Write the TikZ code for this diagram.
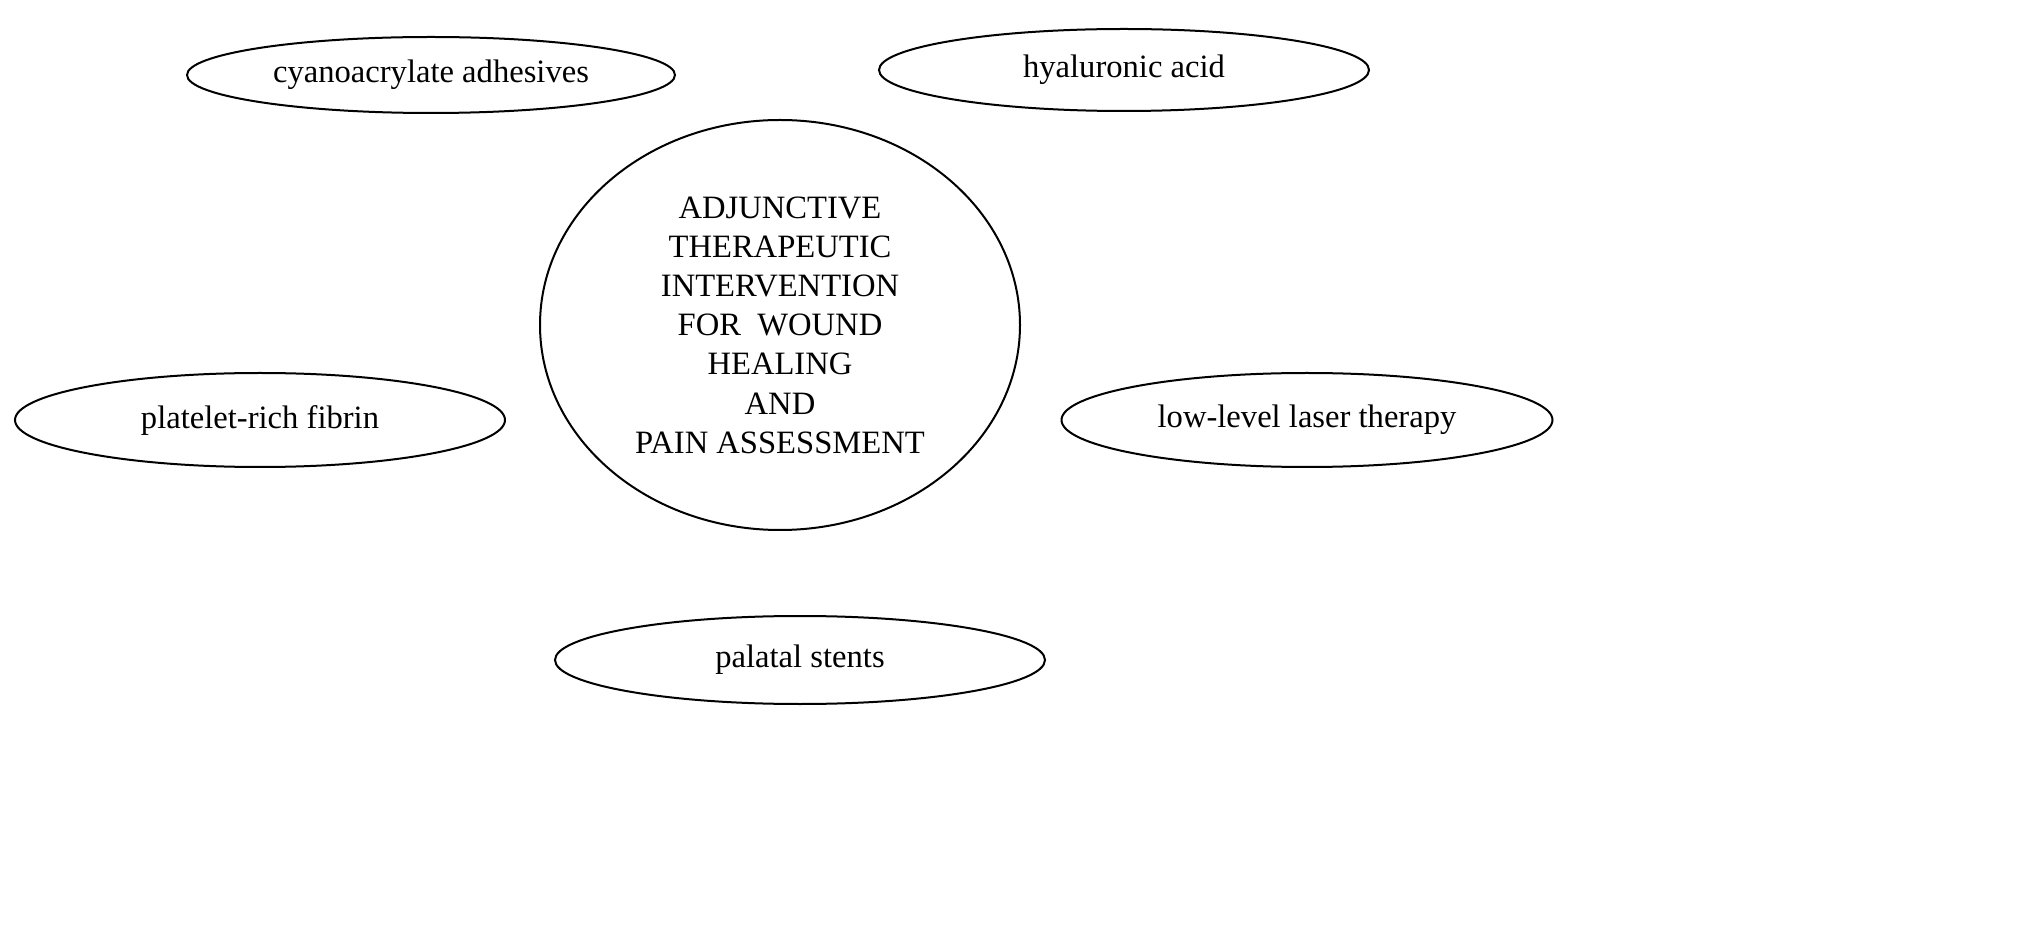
\documentclass[tikz,border=0pt]{standalone}
\usepackage{fontspec}
\setmainfont{Liberation Serif}
\usetikzlibrary{shapes.geometric}
\begin{document}
\begin{tikzpicture}[x=0.5pt,y=-0.5pt,
  el/.style={draw,ellipse,line width=1pt,inner sep=0pt,font=\fontsize{16.3}{19.6}\selectfont,align=center}]
\useasboundingbox (0,0) rectangle (2030,935);
\node[el,minimum width=244pt,minimum height=38pt] (cy) at (431,75) {cyanoacrylate adhesives};
\node[el,minimum width=245pt,minimum height=41pt] (hy) at (1124,70) {hyaluronic acid};
\node[el,minimum width=240pt,minimum height=205pt] (c) at (780,325) {ADJUNCTIVE\\THERAPEUTIC\\INTERVENTION\\FOR\ \ WOUND\\HEALING\\AND\\PAIN ASSESSMENT};
\node[el,minimum width=245pt,minimum height=47pt] (pr) at (260,420) {platelet-rich fibrin};
\node[el,minimum width=245.5pt,minimum height=47pt] (ll) at (1307,420) {low-level laser therapy};
\node[el,minimum width=245pt,minimum height=44pt] (ps) at (800,660) {palatal stents};
\end{tikzpicture}
\end{document}
